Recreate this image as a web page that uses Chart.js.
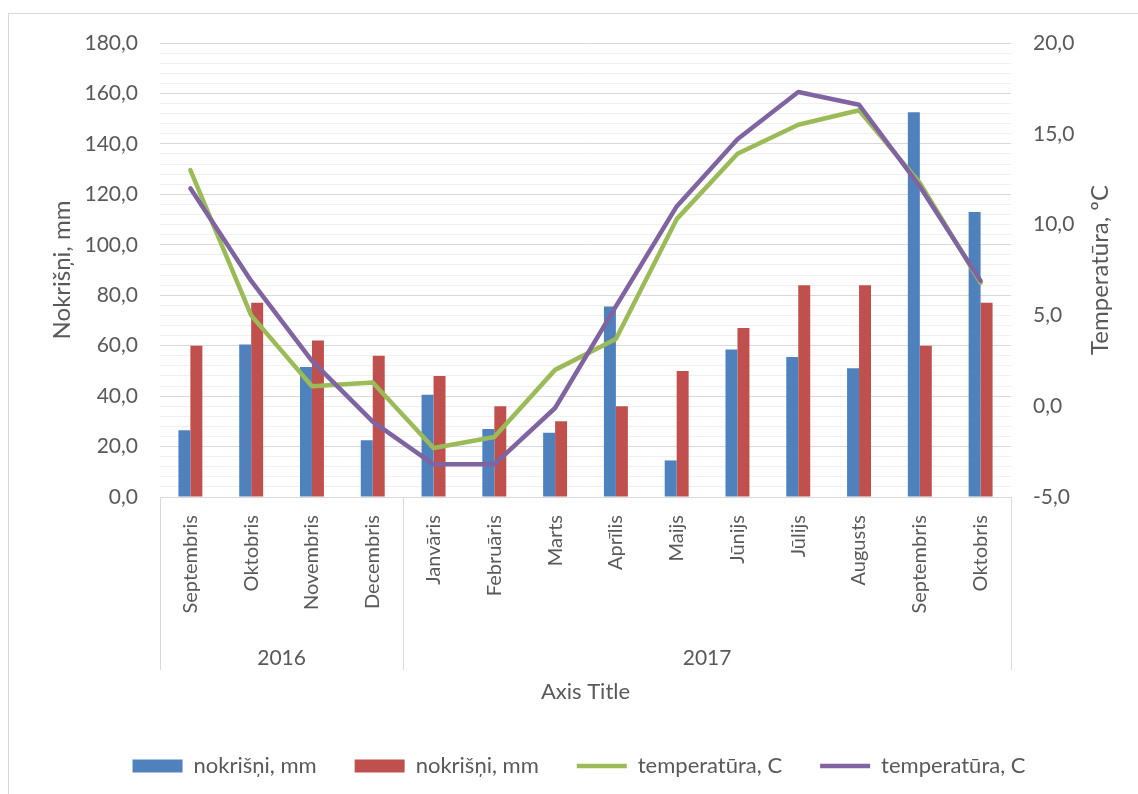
<!DOCTYPE html>
<html>
<head>
<meta charset="utf-8">
<script src="https://cdn.jsdelivr.net/npm/chart.js@4.4.1/dist/chart.umd.min.js"></script>
<style>
  html, body { margin: 0; padding: 0; background: #fff; overflow: hidden; }
  #frame { position: absolute; left: 8px; top: 13px; width: 1200px; height: 900px; border: 1.5px solid #d9d9d9; }
  #chart { position: absolute; left: 0; top: 0; z-index: 1; }
</style>
</head>
<body>
<div id="frame"></div>
<canvas id="chart" width="1138" height="794"></canvas>
<script>
// Data
const months = ['Septembris', 'Oktobris', 'Novembris', 'Decembris', 'Janvāris', 'Februāris', 'Marts',
  'Aprīlis', 'Maijs', 'Jūnijs', 'Jūlijs', 'Augusts', 'Septembris', 'Oktobris'];
const yearLabels = ['2016', '2017'];
const yearSpans = [4, 10];

const precipActual = [26.5, 60.5, 51.5, 22.5, 40.5, 27, 25.5, 75.5, 14.5, 58.5, 55.5, 51, 152.5, 113];
const precipNorm = [60, 77, 62, 56, 48, 36, 30, 36, 50, 67, 84, 84, 60, 77];
const tempActual = [13.0, 5.0, 1.1, 1.3, -2.3, -1.7, 2.0, 3.7, 10.3, 13.9, 15.5, 16.3, 12.3, 6.8];
const tempNorm = [12.0, 6.9, 2.5, -0.85, -3.2, -3.2, -0.1, 5.5, 11.0, 14.7, 17.3, 16.6, 12.1, 6.9];

const seriesNames = ['nokrišņi, mm', 'nokrišņi, mm', 'temperatūra, C', 'temperatūra, C'];
const leftTitle = 'Nokrišņi, mm';
const rightTitle = 'Temperatūra, ºC';
const xTitle = 'Axis Title';

const FONT = 'Lato, "Open Sans", sans-serif';
const TEXT = '#595959';

const fmt = v => v.toFixed(1).replace('.', ',');

// Year row, separators and the right title
const groupPlugin = {
  id: 'groups',
  afterDraw(chart) {
    const { ctx, chartArea } = chart;
    const x = chart.scales.x;
    const half = (x.getPixelForValue(1) - x.getPixelForValue(0)) / 2;
    ctx.save();
    ctx.strokeStyle = '#d9d9d9';
    ctx.lineWidth = 1;
    let start = 0;
    const edges = [0];
    yearSpans.forEach(n => { start += n; edges.push(start); });
    edges.forEach(i => {
      const px = Math.round(x.getPixelForValue(i) - half) + 0.5;
      ctx.beginPath();
      ctx.moveTo(px, chartArea.bottom);
      ctx.lineTo(px, 670);
      ctx.stroke();
    });
    ctx.fillStyle = TEXT;
    ctx.font = '21px ' + FONT;
    ctx.textAlign = 'center';
    ctx.textBaseline = 'middle';
    yearLabels.forEach((lab, k) => {
      const a = x.getPixelForValue(edges[k]) - half;
      const b = x.getPixelForValue(edges[k + 1]) - half;
      ctx.fillText(lab, (a + b) / 2, 658);
    });
    // right axis title, reading bottom to top
    ctx.font = '24px ' + FONT;
    ctx.translate(1100, (chartArea.top + chartArea.bottom) / 2);
    ctx.rotate(-Math.PI / 2);
    ctx.fillText(rightTitle, 0, 0);
    ctx.restore();
  }
};

new Chart(document.getElementById('chart'), {
  type: 'bar',
  data: {
    labels: months,
    datasets: [
      { label: seriesNames[0], data: precipActual, backgroundColor: '#4f81bd', borderWidth: 0,
        yAxisID: 'y', order: 2, pointStyle: 'rect' },
      { label: seriesNames[1], data: precipNorm, backgroundColor: '#c0504d', borderWidth: 0,
        yAxisID: 'y', order: 2, pointStyle: 'rect' },
      { type: 'line', label: seriesNames[2], data: tempActual, borderColor: '#9bbb59', backgroundColor: '#9bbb59',
        borderWidth: 4.5, pointRadius: 0, tension: 0, borderCapStyle: 'round', borderJoinStyle: 'round',
        yAxisID: 'y1', order: 1, pointStyle: 'line' },
      { type: 'line', label: seriesNames[3], data: tempNorm, borderColor: '#8064a2', backgroundColor: '#8064a2',
        borderWidth: 4.5, pointRadius: 0, tension: 0, borderCapStyle: 'round', borderJoinStyle: 'round',
        yAxisID: 'y1', order: 0, pointStyle: 'line' }
    ]
  },
  options: {
    responsive: false,
    animation: false,
    devicePixelRatio: 1,
    categoryPercentage: 0.394,
    barPercentage: 1.0,
    layout: { padding: { left: 20, right: 0, top: 43, bottom: 7 } },
    plugins: {
      tooltip: { enabled: false },
      legend: {
        position: 'bottom',
        labels: {
          usePointStyle: true,
          pointStyleWidth: 50,
          boxHeight: 13,
          padding: 38,
          color: TEXT,
          font: { family: FONT, size: 22 },
          sort: (a, b) => a.datasetIndex - b.datasetIndex
        }
      }
    },
    scales: {
      x: {
        offset: true,
        grid: { display: false, drawTicks: false },
        border: { display: false },
        ticks: { minRotation: 90, maxRotation: 90, padding: 18, autoSkip: false,
          color: TEXT, font: { family: FONT, size: 20 } },
        title: { display: true, text: xTitle, color: TEXT, font: { family: FONT, size: 22 },
          padding: { top: 0, bottom: 12 } },
        afterFit: s => { s.height = 220; }
      },
      y: {
        position: 'left',
        min: 0, max: 180,
        grid: {
          drawTicks: false,
          color: c => (c.tick && c.tick.value % 20 === 0) ? '#d9d9d9' : '#f0f0f0',
          lineWidth: 1
        },
        border: { display: false },
        ticks: {
          stepSize: 4, maxTicksLimit: 100, autoSkip: false, padding: 22,
          color: TEXT, font: { family: FONT, size: 21 },
          callback: v => (v % 20 === 0 ? fmt(v) : '')
        },
        title: { display: true, text: leftTitle, color: TEXT, font: { family: FONT, size: 24 },
          padding: { top: 28, bottom: 0 } },
        afterFit: s => { s.width = 140; }
      },
      y1: {
        position: 'right',
        min: -5, max: 20,
        grid: { drawOnChartArea: false, drawTicks: false },
        border: { display: false },
        ticks: { stepSize: 5, padding: 22, color: TEXT, font: { family: FONT, size: 21 },
          callback: v => fmt(v) },
        afterFit: s => { s.width = 127; }
      }
    }
  },
  plugins: [groupPlugin]
});
</script>
</body>
</html>
